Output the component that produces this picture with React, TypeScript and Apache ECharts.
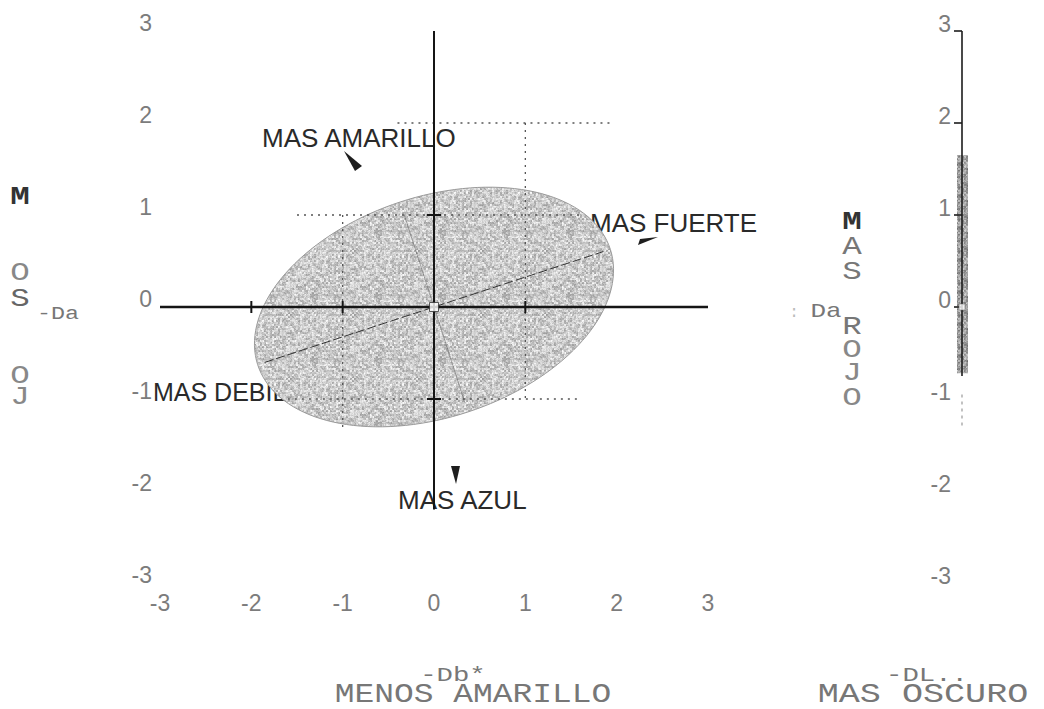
import { useEffect, useRef } from "react";
import * as echarts from "echarts";

// Axis ticks shared by Da*, Db* and DL*
const AXIS_TICKS = [-3, -2, -1, 0, 1, 2, 3];

// Tolerance ellipse in the Db*/Da* plane
const ELLIPSE_CENTER = [0, 0];
const ELLIPSE_SEMI_AXES = [2.03, 1.2];
const ELLIPSE_ANGLE_DEG = 18;

// Heavy cross through the origin
const CROSS_H = [[-3, 0], [3, 0]];
const CROSS_V = [[0, 3], [0, -2.2]];
const CROSS_H_TICKS = [-2, -1, 1];
const CROSS_V_TICKS = [1, -1];

// Dotted guide segments: [x1, y1, x2, y2]
const GUIDES = [
  [-0.4, 2, 1.95, 2],
  [1, 2, 1, -1],
  [-1.5, 1, 1.6, 1],
  [-1.6, -1, 1.6, -1],
  [-1, 1, -1, -1.35],
];

// DL* tolerance range and its axis
const DL_RANGE = [-0.72, 1.65];
const DL_AXIS = [[0, 3], [0, -0.75]];
const DL_TAIL = [[0, -0.95], [0, -1.32]];
const DL_TICKS = [0, 1, 2, 3];

const SANS = '"Liberation Sans", Arial, sans-serif';
const MONO = '"Liberation Mono", "DejaVu Sans Mono", monospace';

// Speckled grey texture for the shaded regions (deterministic LCG)
function grain(size: number, base: number, spread: number, seed: number): string {
  const c = document.createElement("canvas");
  c.width = size;
  c.height = size;
  const ctx = c.getContext("2d")!;
  const img = ctx.createImageData(size, size);
  let s = seed;
  const next = () => {
    s = (s * 1103515245 + 12345) & 0x7fffffff;
    return s / 0x7fffffff;
  };
  const half = size / 2;
  const blocks: number[] = [];
  for (let i = 0; i < half * half; i++) blocks.push(next());
  for (let y = 0; y < size; y++) {
    for (let x = 0; x < size; x++) {
      const b = blocks[Math.floor(y / 2) * half + Math.floor(x / 2)];
      const r = 0.65 * b + 0.35 * next();
      const v = Math.max(0, Math.min(255, Math.round(base + (r - 0.5) * 2 * spread)));
      const i = (y * size + x) * 4;
      img.data[i] = v;
      img.data[i + 1] = v;
      img.data[i + 2] = v;
      img.data[i + 3] = 255;
    }
  }
  ctx.putImageData(img, 0, 0);
  return c.toDataURL();
}

function monoText(text: string, x: number, y: number, size: number, fill: string, sx = 1.25, weight = "normal") {
  return {
    type: "text",
    x,
    y,
    scaleX: sx,
    style: {
      text,
      font: `${weight} ${size}px ${MONO}`,
      fill,
      align: "center",
      verticalAlign: "middle",
    },
  };
}

function sansText(text: string, x: number, y: number, size = 26) {
  return {
    type: "text",
    x,
    y,
    style: {
      text,
      font: `${size}px ${SANS}`,
      fill: "#2a2a2a",
      align: "left",
      verticalAlign: "middle",
    },
  };
}

function wedge(points: number[][]) {
  return { type: "polygon", shape: { points }, style: { fill: "#1e1e1e" } };
}

export default function App() {
  const ref = useRef<HTMLDivElement>(null);

  useEffect(() => {
    if (!ref.current) return;
    const chart = echarts.init(ref.current, null, { renderer: "svg" });
    const ellipseFill = { image: grain(64, 203, 50, 7), repeat: "repeat" };
    const barFill = { image: grain(32, 150, 65, 11), repeat: "repeat" };

    const labelStyle = { color: "#7c7c7c", fontSize: 23, fontFamily: SANS };
    // tick labels sit a little above their tick
    const raised = { verticalAlign: "bottom", lineHeight: 16 };

    const leftLetters = [
      monoText("M", 20, 197, 26, "#333", 1.25, "bold"),
      monoText("O", 20, 273, 26, "#888"),
      monoText("S", 20, 299, 26, "#666"),
      monoText("O", 20, 376, 26, "#888"),
      monoText("J", 20, 397, 26, "#888"),
      monoText("-Da", 58, 314, 18, "#777", 1.3),
    ];
    const rightLetters = [
      monoText("M", 852, 222, 26, "#333", 1.25, "bold"),
      monoText("A", 852, 247, 26, "#777"),
      monoText("S", 852, 272, 26, "#777"),
      monoText("R", 852, 327, 26, "#777"),
      monoText("O", 852, 350, 26, "#888"),
      monoText("J", 852, 373, 26, "#888"),
      monoText("O", 852, 398, 26, "#888"),
      monoText(":", 794, 313, 16, "#bbb", 1),
      monoText("Da", 826, 312, 20, "#777", 1.3),
    ];
    const bottomTexts = [
      monoText("-Db*", 453, 675, 21, "#777", 1.3),
      monoText("MENOS AMARILLO", 473, 695, 27, "#777", 1.22),
      monoText("-DL..", 927, 675, 21, "#777", 1.3),
      monoText("MAS OSCURO", 923, 695, 27, "#777", 1.3),
    ];
    const notes = [
      sansText("MAS AMARILLO", 262, 138),
      sansText("MAS FUERTE", 590, 223),
      sansText("MAS DEBIL", 153, 392, 25),
      sansText("MAS AZUL", 398, 500),
      wedge([[344, 151], [362, 166], [355, 171]]),
      wedge([[638, 245], [640, 239], [658, 237]]),
      wedge([[451, 466], [460, 466], [456, 484]]),
    ];

    chart.setOption({
      animation: false,
      backgroundColor: "#ffffff",
      grid: [
        { left: 160, top: 31, width: 548, height: 552 },
        { left: 957, top: 31, width: 10, height: 552 },
      ],
      xAxis: [
        {
          gridIndex: 0,
          type: "value",
          min: -3,
          max: 3,
          interval: 1,
          axisLine: { show: false },
          axisTick: { show: false },
          splitLine: { show: false },
          axisLabel: {
            ...labelStyle,
            margin: 8,
            formatter: (v: number) => (AXIS_TICKS.includes(v) ? String(v) : ""),
          },
        },
        {
          gridIndex: 1,
          type: "value",
          min: -1,
          max: 1,
          show: false,
        },
      ],
      yAxis: [
        {
          gridIndex: 0,
          type: "value",
          min: -3,
          max: 3,
          interval: 1,
          axisLine: { show: false },
          axisTick: { show: false },
          splitLine: { show: false },
          axisLabel: { ...labelStyle, ...raised, margin: 8 },
        },
        {
          gridIndex: 1,
          type: "value",
          min: -3,
          max: 3,
          interval: 1,
          axisLine: { show: false },
          axisTick: { show: false },
          splitLine: { show: false },
          axisLabel: { ...labelStyle, ...raised, lineHeight: 14, margin: 6 },
        },
      ],
      graphic: [...leftLetters, ...rightLetters, ...bottomTexts, ...notes],
      series: [
        {
          type: "custom",
          name: "ellipse",
          xAxisIndex: 0,
          yAxisIndex: 0,
          clip: false,
          z: 1,
          data: [ELLIPSE_CENTER],
          renderItem: (_p: any, api: any) => {
            const [cx, cy] = ELLIPSE_CENTER;
            const [a, b] = ELLIPSE_SEMI_AXES;
            const th = (ELLIPSE_ANGLE_DEG * Math.PI) / 180;
            const pt = (u: number, v: number) =>
              api.coord([cx + u * Math.cos(th) - v * Math.sin(th), cy + u * Math.sin(th) + v * Math.cos(th)]);
            const points: number[][] = [];
            for (let i = 0; i < 144; i++) {
              const t = (i / 144) * Math.PI * 2;
              points.push(pt(a * Math.cos(t), b * Math.sin(t)));
            }
            const m1 = pt(-a * 0.96, 0);
            const m2 = pt(a * 0.96, 0);
            const n1 = pt(0, b * 0.88);
            const n2 = pt(0, -b * 0.92);
            return {
              type: "group",
              children: [
                { type: "polygon", shape: { points }, style: { fill: ellipseFill, stroke: "#9a9a9a", lineWidth: 1 } },
                {
                  type: "line",
                  shape: { x1: m1[0], y1: m1[1], x2: m2[0], y2: m2[1] },
                  style: { stroke: "#333", lineWidth: 1, lineDash: [9, 3] },
                },
                {
                  type: "line",
                  shape: { x1: n1[0], y1: n1[1], x2: n2[0], y2: n2[1] },
                  style: { stroke: "#555", lineWidth: 1, opacity: 0.5 },
                },
              ],
            };
          },
        },
        {
          type: "custom",
          name: "guides",
          xAxisIndex: 0,
          yAxisIndex: 0,
          z: 2,
          clip: false,
          data: GUIDES,
          encode: { x: [0, 2], y: [1, 3] },
          renderItem: (_p: any, api: any) => {
            const p1 = api.coord([api.value(0), api.value(1)]);
            const p2 = api.coord([api.value(2), api.value(3)]);
            return {
              type: "line",
              shape: { x1: p1[0], y1: p1[1], x2: p2[0], y2: p2[1] },
              style: { stroke: "#555", lineWidth: 1.3, lineDash: [2, 5] },
            };
          },
        },
        {
          type: "line",
          name: "cross-h",
          xAxisIndex: 0,
          yAxisIndex: 0,
          data: CROSS_H,
          symbol: "none",
          z: 3,
          lineStyle: { color: "#151515", width: 2.6 },
        },
        {
          type: "line",
          name: "cross-v",
          xAxisIndex: 0,
          yAxisIndex: 0,
          data: CROSS_V,
          symbol: "none",
          z: 3,
          lineStyle: { color: "#151515", width: 2 },
        },
        {
          type: "custom",
          name: "cross-ticks",
          xAxisIndex: 0,
          yAxisIndex: 0,
          z: 3,
          data: [...CROSS_H_TICKS.map((x) => [x, 0, 0]), ...CROSS_V_TICKS.map((y) => [0, y, 1])],
          renderItem: (_p: any, api: any) => {
            const p = api.coord([api.value(0), api.value(1)]);
            const vertical = api.value(2) === 0;
            return {
              type: "line",
              shape: vertical
                ? { x1: p[0], y1: p[1] - 6, x2: p[0], y2: p[1] + 6 }
                : { x1: p[0] - 7, y1: p[1], x2: p[0] + 7, y2: p[1] },
              style: { stroke: "#151515", lineWidth: 2 },
            };
          },
        },
        {
          type: "scatter",
          name: "origin",
          xAxisIndex: 0,
          yAxisIndex: 0,
          z: 4,
          data: [ELLIPSE_CENTER],
          symbol: "rect",
          symbolSize: 9,
          itemStyle: { color: "#ffffff", borderColor: "#333", borderWidth: 1 },
        },
        {
          type: "custom",
          name: "dl-range",
          xAxisIndex: 1,
          yAxisIndex: 1,
          clip: false,
          z: 1,
          data: [[0, DL_RANGE[0], DL_RANGE[1]]],
          renderItem: (_p: any, api: any) => {
            const lo = api.coord([api.value(0), api.value(1)]);
            const hi = api.coord([api.value(0), api.value(2)]);
            return {
              type: "rect",
              shape: { x: lo[0] - 5, y: hi[1], width: 11, height: lo[1] - hi[1] },
              style: { fill: barFill, opacity: 0.9 },
            };
          },
        },
        {
          type: "line",
          name: "dl-axis",
          xAxisIndex: 1,
          yAxisIndex: 1,
          data: DL_AXIS,
          symbol: "none",
          z: 3,
          lineStyle: { color: "#1c1c1c", width: 1.6 },
        },
        {
          type: "line",
          name: "dl-tail",
          xAxisIndex: 1,
          yAxisIndex: 1,
          data: DL_TAIL,
          symbol: "none",
          z: 3,
          lineStyle: { color: "#999", width: 1.2, type: [3, 4] },
        },
        {
          type: "custom",
          name: "dl-ticks",
          xAxisIndex: 1,
          yAxisIndex: 1,
          clip: false,
          z: 3,
          data: DL_TICKS.map((v) => [0, v]),
          renderItem: (_p: any, api: any) => {
            const p = api.coord([api.value(0), api.value(1)]);
            return {
              type: "line",
              shape: { x1: p[0] - 8, y1: p[1], x2: p[0], y2: p[1] },
              style: { stroke: "#1c1c1c", lineWidth: 1.6 },
            };
          },
        },
        {
          type: "scatter",
          name: "dl-origin",
          xAxisIndex: 1,
          yAxisIndex: 1,
          z: 4,
          data: [[0, 0]],
          symbol: "rect",
          symbolSize: 6,
          itemStyle: { color: "#ffffff", borderColor: "#666", borderWidth: 0.6 },
        },
      ],
    });

    return () => chart.dispose();
  }, []);

  return (
    <div
      ref={ref}
      style={{ position: "absolute", left: 0, top: 0, width: 1044, height: 709, background: "#fff" }}
    />
  );
}
